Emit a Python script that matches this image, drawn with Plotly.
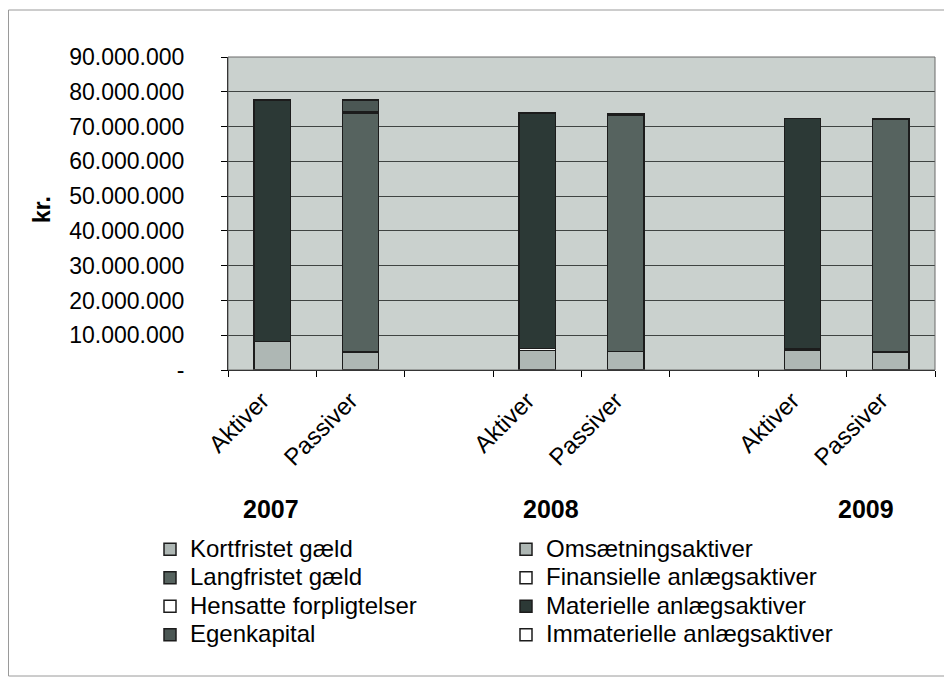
import plotly.graph_objects as go

# ---- data ----
categories = ["Aktiver 2007", "Passiver 2007", "gap1", "Aktiver 2008", "Passiver 2008",
              "gap2", "Aktiver 2009", "Passiver 2009"]
category_labels = ["Aktiver", "Passiver", "", "Aktiver", "Passiver", "", "Aktiver", "Passiver"]
years = ["2007", "2008", "2009"]

kortfristet_gaeld = [None, 5.2e6, None, None, 5.3e6, None, None, 5.2e6]
langfristet_gaeld = [None, 68.6e6, None, None, 67.9e6, None, None, 66.8e6]
hensatte_forpligtelser = [None, 0.4e6, None, None, 0.4e6, None, None, 0.1e6]
egenkapital = [None, 3.4e6, None, None, 0.2e6, None, None, 0.1e6]
omsaetningsaktiver = [8.2e6, None, None, 5.6e6, None, None, 5.7e6, None]
finansielle_anlaeg = [0, None, None, 0.6e6, None, None, 0.4e6, None]
materielle_anlaeg = [69.4e6, None, None, 67.7e6, None, None, 66.2e6, None]
immaterielle_anlaeg = [0, None, None, 0, None, None, 0, None]

y_tickvals = [0, 10e6, 20e6, 30e6, 40e6, 50e6, 60e6, 70e6, 80e6, 90e6]
y_ticktext = ["-", "10.000.000", "20.000.000", "30.000.000", "40.000.000", "50.000.000",
              "60.000.000", "70.000.000", "80.000.000", "90.000.000"]

FONT = "Liberation Sans, Arial, sans-serif"
LIGHT = "#aeb7b4"
OUT = "#1c1c1c"
LEG_TEXT = 24      # rendered legend text size
LEG_ROW = 19.6     # legend font size driving the row spacing

series = [
    ("Kortfristet gæld", kortfristet_gaeld, LIGHT, "legend"),
    ("Langfristet gæld", langfristet_gaeld, "#56635f", "legend"),
    ("Hensatte forpligtelser", hensatte_forpligtelser, "#ffffff", "legend"),
    ("Egenkapital", egenkapital, "#4b5754", "legend"),
    ("Omsætningsaktiver", omsaetningsaktiver, LIGHT, "legend2"),
    ("Finansielle anlægsaktiver", finansielle_anlaeg, "#ffffff", "legend2"),
    ("Materielle anlægsaktiver", materielle_anlaeg, "#2c3936", "legend2"),
    ("Immaterielle anlægsaktiver", immaterielle_anlaeg, "#ffffff", "legend2"),
]

fig = go.Figure()
for name, vals, color, leg in series:
    fig.add_trace(go.Bar(
        x=categories, y=vals, legend=leg, width=0.41,
        name="<span style='font-size:%dpx'>%s</span>" % (LEG_TEXT, name),
        hovertemplate=name + ": %{y:,.0f}<extra></extra>",
        marker=dict(color=color, line=dict(color=OUT, width=1.5)),
    ))

# page has an 8px body margin; coordinates below are screen pixels
OFF = 8
W, H = 944, 676
L, R, T, B = 220, 17, 49, 314
pw, ph = W - L - R, H - T - B

def px_x(x):
    return (x - OFF - L) / pw

def px_y(y):
    return (H - B - (y - OFF)) / ph

legend_common = dict(
    xanchor="left", yanchor="top", traceorder="normal",
    font=dict(size=LEG_ROW, family=FONT, color="black"),
    bgcolor="rgba(0,0,0,0)", tracegroupgap=0, itemwidth=30,
)

fig.update_layout(
    width=W, height=H,
    margin=dict(l=L, r=R, t=T, b=B),
    barmode="stack",
    separators=",.",
    paper_bgcolor="white",
    plot_bgcolor="#cad1ce",
    font=dict(family=FONT, color="black"),
    xaxis=dict(
        type="category", categoryorder="array", categoryarray=categories,
        tickvals=categories, ticktext=category_labels,
        range=[-0.5, 7.5], tickson="boundaries",
        ticks="outside", ticklen=6, tickcolor="black",
        showline=True, linecolor="black", linewidth=1,
        showgrid=False, tickangle=-45,
        ticklabelshift=-10, ticklabelstandoff=6,
        tickfont=dict(size=24, family=FONT, color="black"),
    ),
    yaxis=dict(
        range=[0, 90e6], tickvals=y_tickvals, ticktext=y_ticktext,
        ticks="outside", ticklen=6, tickcolor="black",
        showline=True, linecolor="black", linewidth=1,
        showgrid=True, gridcolor="#3f4442", gridwidth=1,
        tickfont=dict(size=23, family=FONT, color="black"),
        ticklabelstandoff=32, zeroline=False,
    ),
    legend=dict(x=px_x(150), y=px_y(530), **legend_common),
    legend2=dict(x=px_x(506), y=px_y(530), **legend_common),
    shapes=[
        dict(type="rect", xref="paper", yref="paper", x0=0, x1=1, y0=0, y1=1,
             line=dict(color="#6b6b6b", width=1), layer="above"),
        dict(type="rect", xref="paper", yref="paper",
             x0=px_x(8.5), x1=px_x(951), y0=px_y(676), y1=px_y(10),
             line=dict(color="#9a9a9a", width=1), layer="below"),
    ],
    annotations=[
        dict(text="<b>kr.</b>", xref="paper", yref="paper", x=px_x(42), y=px_y(210),
             xanchor="center", yanchor="middle",
             textangle=-90, showarrow=False, font=dict(size=23, family=FONT)),
        dict(text="<b>" + years[0] + "</b>", xref="paper", yref="paper",
             x=px_x(271), y=px_y(509), xanchor="center", yanchor="middle",
             showarrow=False, font=dict(size=25, family=FONT)),
        dict(text="<b>" + years[1] + "</b>", xref="paper", yref="paper",
             x=px_x(551), y=px_y(509), xanchor="center", yanchor="middle",
             showarrow=False, font=dict(size=25, family=FONT)),
        dict(text="<b>" + years[2] + "</b>", xref="paper", yref="paper",
             x=px_x(866), y=px_y(509), xanchor="center", yanchor="middle",
             showarrow=False, font=dict(size=25, family=FONT)),
    ],
)

fig.write_html("out.html")
